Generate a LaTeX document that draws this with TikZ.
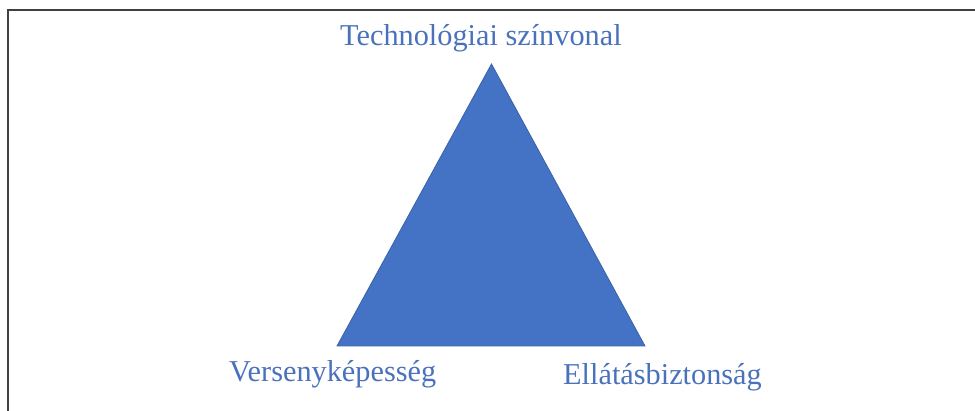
\documentclass[tikz,border=0pt]{standalone}
\usepackage{fontspec}
\setmainfont{Liberation Serif}
\usepackage{xcolor}
\definecolor{triblue}{HTML}{4472C4}
\definecolor{triedge}{HTML}{3A62A8}
\definecolor{labelblue}{HTML}{4A72BC}

\begin{document}
\begin{tikzpicture}[x=1pt,y=-1pt,
  lbl/.style={text=labelblue, font=\fontsize{30.3}{34}\selectfont, inner sep=0pt}]

% Canvas
\useasboundingbox (0,0) rectangle (975,411);

% Frame (top and left edges only)
\draw[line width=1.6pt, black!75] (8,411) -- (8,10) -- (975,10);

% Triangle corners
\coordinate (top) at (491.5,64);
\coordinate (left) at (337,346);
\coordinate (right) at (645,346);

% Triangle
\filldraw[fill=triblue, draw=triedge, line width=0.8pt, line join=miter]
  (top) -- (left) -- (right) -- cycle;

% Corner labels
\node[lbl, anchor=base west] (tech) at (340,46) {Technológiai színvonal};
\node[lbl, anchor=base west] (verseny) at (229,382) {Versenyképesség};
\node[lbl, anchor=base west] (ellatas) at (563,385) {Ellátásbiztonság};

\end{tikzpicture}
\end{document}
